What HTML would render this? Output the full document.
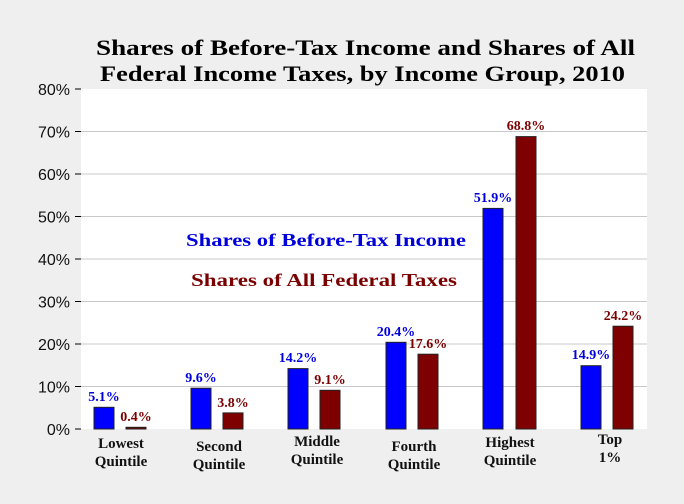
<!DOCTYPE html>
<html><head><style>
body{margin:0;background:#efefef;}
svg{display:block}
</style></head><body>
<svg width="684" height="504" xmlns="http://www.w3.org/2000/svg" font-family="Liberation Serif, serif">
<rect width="684" height="504" fill="#efefef"/>
<rect x="81" y="89" width="566" height="340" fill="#fff"/>
<g stroke="#c8c8c8" stroke-width="1">
<line x1="81" x2="647" y1="131.5" y2="131.5"/><line x1="81" x2="647" y1="174" y2="174"/>
<line x1="81" x2="647" y1="216.5" y2="216.5"/><line x1="81" x2="647" y1="259" y2="259"/>
<line x1="81" x2="647" y1="301.5" y2="301.5"/><line x1="81" x2="647" y1="344" y2="344"/>
<line x1="81" x2="647" y1="386.5" y2="386.5"/>
</g>
<g stroke="#000" stroke-width="1">
<line x1="75" x2="81" y1="89" y2="89"/><line x1="75" x2="81" y1="131.5" y2="131.5"/><line x1="75" x2="81" y1="174" y2="174"/>
<line x1="75" x2="81" y1="216.5" y2="216.5"/><line x1="75" x2="81" y1="259" y2="259"/><line x1="75" x2="81" y1="301.5" y2="301.5"/>
<line x1="75" x2="81" y1="344" y2="344"/><line x1="75" x2="81" y1="386.5" y2="386.5"/><line x1="75" x2="81" y1="429" y2="429"/>
</g>
<g font-family="Liberation Sans, sans-serif" font-size="16" text-anchor="end" fill="#111">
<text x="70" y="95">80%</text><text x="70" y="137.5">70%</text><text x="70" y="180">60%</text>
<text x="70" y="222.5">50%</text><text x="70" y="265">40%</text><text x="70" y="307.5">30%</text>
<text x="70" y="350">20%</text><text x="70" y="392.5">10%</text><text x="70" y="435">0%</text>
</g>
<text x="96" y="55" font-size="22" font-weight="bold" textLength="539" lengthAdjust="spacingAndGlyphs" fill="#000">Shares of Before-Tax Income and Shares of All</text>
<text x="100" y="81" font-size="22" font-weight="bold" textLength="525" lengthAdjust="spacingAndGlyphs" fill="#000">Federal Income Taxes, by Income Group, 2010</text>
<text x="186" y="246" font-size="18" font-weight="bold" textLength="280" lengthAdjust="spacingAndGlyphs" fill="#0000dd">Shares of Before-Tax Income</text>
<text x="191" y="286" font-size="18" font-weight="bold" textLength="266" lengthAdjust="spacingAndGlyphs" fill="#7a0000">Shares of All Federal Taxes</text>
<g stroke="#222" stroke-width="1">
<rect x="94" y="407.3" width="20" height="21.7" fill="#0000ff"/>
<rect x="126" y="427.3" width="20" height="1.7" fill="#7f0000"/>
<rect x="191" y="388.2" width="20" height="40.8" fill="#0000ff"/>
<rect x="223" y="412.9" width="20" height="16.1" fill="#7f0000"/>
<rect x="288" y="368.6" width="20" height="60.4" fill="#0000ff"/>
<rect x="320" y="390.3" width="20" height="38.7" fill="#7f0000"/>
<rect x="386" y="342.3" width="20" height="86.7" fill="#0000ff"/>
<rect x="418" y="354.2" width="20" height="74.8" fill="#7f0000"/>
<rect x="483" y="208.4" width="20" height="220.6" fill="#0000ff"/>
<rect x="516" y="136.6" width="20" height="292.4" fill="#7f0000"/>
<rect x="581" y="365.7" width="20" height="63.3" fill="#0000ff"/>
<rect x="613" y="326.2" width="20" height="102.8" fill="#7f0000"/>
</g>
<g font-size="14" font-weight="bold" text-anchor="middle">
<text x="104" y="401" fill="#0000dd">5.1%</text><text x="136" y="421" fill="#7a0000">0.4%</text>
<text x="201" y="382" fill="#0000dd">9.6%</text><text x="233" y="407" fill="#7a0000">3.8%</text>
<text x="298" y="362" fill="#0000dd">14.2%</text><text x="330" y="384" fill="#7a0000">9.1%</text>
<text x="396" y="336" fill="#0000dd">20.4%</text><text x="428" y="348" fill="#7a0000">17.6%</text>
<text x="493" y="202" fill="#0000dd">51.9%</text><text x="526" y="130" fill="#7a0000">68.8%</text>
<text x="591" y="359" fill="#0000dd">14.9%</text><text x="623" y="320" fill="#7a0000">24.2%</text>
</g>
<g font-size="15" font-weight="bold" text-anchor="middle" fill="#111">
<text x="121" y="448">Lowest</text><text x="121" y="466">Quintile</text>
<text x="219" y="451">Second</text><text x="219" y="469">Quintile</text>
<text x="317" y="446">Middle</text><text x="317" y="464">Quintile</text>
<text x="414" y="451">Fourth</text><text x="414" y="469">Quintile</text>
<text x="510" y="447">Highest</text><text x="510" y="465">Quintile</text>
<text x="610" y="444">Top</text><text x="610" y="462">1%</text>
</g>
</svg>
</body></html>
